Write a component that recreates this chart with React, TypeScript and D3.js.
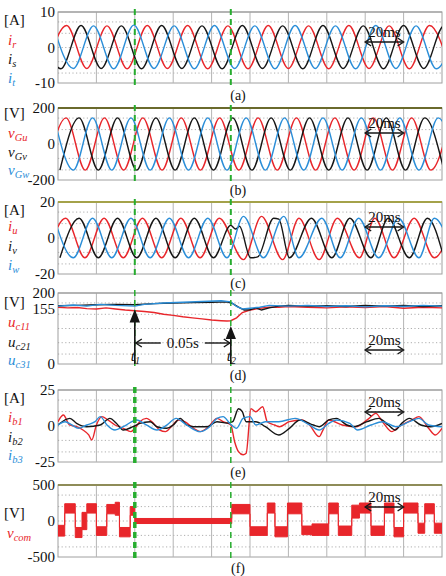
import React from "react";
import * as d3 from "d3";

type Pt = [number, number];
type Band = [number, number, number];

// ---------- time axis (ms) ----------
const timeDomain: [number, number] = [0, 200];
const divisionTimes = [20, 40, 60, 80, 100, 120, 140, 160, 180];
const t1 = 40;
const t2 = 90;
const scaleBar: [number, number] = [160, 180];

// ---------- (a) source currents [A], extrema (t, value) ----------
const iR: Pt[] = [[-6,-6.0],[4.5,6.2],[15,-5.9],[25.5,6.1],[36,-6.0],[46.5,6.2],[57,-5.9],[67.5,6.2],[78,-6.0],[88.5,6.1],[99,-6.0],[109.5,6.2],[120,-5.9],[130.5,6.1],[141,-6.0],[151.5,6.2],[162,-5.9],[172.5,6.1],[183,-6.0],[193.5,6.2],[204,-5.9]];
const iS: Pt[] = [[-9,6.1],[1.5,-6.0],[12,6.2],[22.5,-5.9],[33,6.1],[43.5,-6.0],[54,6.2],[64.5,-5.9],[75,6.1],[85.5,-6.0],[96,6.2],[106.5,-5.9],[117,6.1],[127.5,-6.0],[138,6.2],[148.5,-5.9],[159,6.1],[169.5,-6.0],[180,6.2],[190.5,-5.9],[201,6.1],[211.5,-6.0]];
const iT: Pt[] = [[-2.5,6.2],[8,-5.9],[18.5,6.1],[29,-6.0],[39.5,6.3],[50,-5.9],[60.5,6.1],[71,-6.0],[81.5,6.2],[92,-5.9],[102.5,6.1],[113,-6.0],[123.5,6.2],[134,-5.9],[144.5,6.1],[155,-6.0],[165.5,6.2],[176,-5.9],[186.5,6.1],[197,-6.0],[207.5,6.2]];

// ---------- (b) grid voltages [V] ----------
const vGu: Pt[] = [[-5.8,-145],[4.2,145],[14.2,-145],[24.2,145],[34.2,-145],[44.2,145],[54.2,-145],[64.2,145],[74.2,-145],[84.2,145],[94.2,-145],[104.2,145],[114.2,-145],[124.2,145],[134.2,-145],[144.2,145],[154.2,-145],[164.2,145],[174.2,-145],[184.2,145],[194.2,-145],[204.2,145]];
const vGv: Pt[] = [[1,-145],[11,145],[21,-145],[31,145],[41,-145],[51,145],[61,-145],[71,145],[81,-145],[91,145],[101,-145],[111,145],[121,-145],[131,145],[141,-145],[151,145],[161,-145],[171,145],[181,-145],[191,145],[201,-145]];
const vGw: Pt[] = [[-2,145],[8,-145],[18,145],[28,-145],[38,145],[48,-145],[58,145],[68,-145],[78,145],[88,-145],[98,145],[108,-145],[118,145],[128,-145],[138,145],[148,-145],[158,145],[168,-145],[178,145],[188,-145],[198,145],[208,-145]];

// ---------- (c) converter currents [A] ----------
const iU: Pt[] = [[-6,-11],[4,11],[14,-11],[24,11],[34,-11],[44,11],[54,-11],[64,11],[74,-11],[84,11],[96.6,-12],[106,12],[117,-12],[125.5,11],[136,-12],[145.5,11],[157,-11],[165,11],[175,-11],[185.5,11],[196,-11],[206,11]];
const iV: Pt[] = [[1,-11],[11,11],[21,-11],[31,11],[41,-11],[51,11],[61,-11],[71,11],[81,-11],[90,7],[92.5,5],[94.5,6.5],[100.3,-11],[104,-10.5],[112.3,11],[115,10.5],[120.5,-11],[132,11],[142.6,-11],[152,11],[163,-11],[172,11],[183,-11],[192.4,11],[201,-11]];
const iW: Pt[] = [[-2,11],[8,-11],[18,11],[28,-11],[38,11],[48,-11],[58,11],[68,-11],[78,11],[88,-11],[96.6,12],[107,-11],[117.6,12],[125.5,-11],[137.4,11],[147,-11],[156.6,11],[167,-11],[177.4,11],[188,-11],[196,11],[206,-11]];

// ---------- (d) capacitor voltages [V] ----------
const uc11: Pt[] = [[0,160],[5,158],[10,159],[15,156],[20,155],[25,158],[30,155],[35,152],[40,150],[45,148],[50,145],[55,140],[60,137],[65,133],[70,130],[75,127],[80,124],[85,122],[88,121],[90,122],[93,130],[96,145],[100,152],[105,157],[110,160],[115,160],[120,162],[130,160],[140,158],[150,161],[160,159],[170,162],[180,157],[190,160],[200,158]];
const uc21: Pt[] = [[0,164],[10,165],[20,167],[30,168],[40,167],[50,170],[60,172],[70,173],[80,174],[88,175],[91,170],[94,160],[97,152],[100,153],[103,158],[106,152],[110,158],[115,163],[120,165],[130,163],[140,164],[150,162],[160,165],[170,163],[180,165],[190,162],[200,164]];
const uc31: Pt[] = [[0,163],[8,166],[15,163],[22,168],[30,165],[40,163],[45,168],[55,172],[65,174],[75,176],[85,178],[90,175],[93,162],[96,155],[100,157],[105,160],[110,165],[120,163],[130,165],[140,162],[150,164],[160,161],[170,164],[180,162],[190,165],[200,163]];

// ---------- (e) branch currents [A] ----------
const ib1: Pt[] = [[0,3],[2.8,7.6],[6,0.7],[9.7,-0.5],[13,-2.8],[16,-6.2],[17.6,-9.7],[20,0.7],[22.8,6.5],[26,4.2],[29.7,0.7],[34,-1.6],[38,-3.9],[40,-1.6],[42.6,3],[46,5.3],[49.8,1.8],[53,-2.8],[56,-3.9],[59,-0.5],[62.8,4.2],[66,3],[70.6,-1.6],[74,-3.9],[78.4,-0.5],[82.8,5.3],[86,3],[90,0.7],[92,-10.9],[94,-17.8],[96.4,-20],[98,-19],[100.5,12],[103,9.9],[106.6,13.4],[109,3],[112.8,0.7],[115.4,-0.5],[120.5,3],[127,4.2],[131,0.7],[136,-7.4],[138,-2.8],[141,4.2],[148,0.7],[155,-0.5],[162,5.3],[165.5,8.8],[169,3],[174,-3.9],[177.5,-0.5],[184.4,4.2],[188,6.5],[193,-1.6],[196.5,-6.2],[200,-1.6]];
const ib2: Pt[] = [[0,0.7],[6.2,5.3],[9.7,1.8],[14.9,-0.5],[22,0.7],[27,5.3],[30.5,1.8],[34,-2.8],[39,-0.5],[42.6,1.8],[48,3],[51.5,-0.5],[56.7,-1.6],[60,0.7],[63.7,5.3],[67,0.7],[70.6,-0.5],[77.6,-0.5],[82.8,3],[88,2],[91,3],[94,12],[96,9.9],[98,3],[103,3],[108,-0.5],[115,-6.2],[120.5,-1.6],[126,4.2],[133,0.7],[136,-0.5],[141,4.2],[145,5.3],[150.5,0.7],[154,-0.5],[161,3],[167,5.3],[172,0.7],[175.6,-2.8],[179,1.8],[183,5.3],[189,0.7],[194,-0.5],[200,1.8]];
const ib3: Pt[] = [[0,0.7],[3.7,3],[7.2,0.7],[10.6,-1.6],[15,0.7],[19.3,3],[22,6.5],[25.5,0.7],[29.7,-2.8],[34,-0.5],[41,4.2],[46,0.7],[51.5,-2.8],[57,1],[61.5,5.3],[67,0.7],[74,-3.9],[79,-0.5],[82.8,5.3],[86,6.5],[89.5,1.8],[93,-1.6],[96.4,5.3],[100,6.5],[103,0.7],[108,3],[115,3],[123.5,5.3],[131,0.7],[136,-2.8],[141,1.8],[145,4.2],[152,1.8],[156,-2.8],[163,0.7],[169,3],[176,-0.5],[183,3],[188,5.3],[193,0.7],[200,-0.5]];

// ---------- (f) common-mode voltage [V]: (start t, low, high) ----------
const vcom: Band[] = [[0,-210,-60],[3.5,110,240],[9,-230,-90],[12.5,-120,120],[15,110,240],[20,-200,-80],[25.4,100,230],[29.8,80,260],[32,-220,-90],[37.6,80,200],[40,-35,35],[90.5,100,230],[100,-200,-80],[109,110,250],[113,-220,-80],[119.5,100,250],[127,-190,-70],[132.3,-200,-40],[141,100,250],[146,-200,-70],[153,40,220],[157,110,250],[163,-200,-70],[170,110,250],[175,-220,-90],[180,110,250],[187.5,-170,-30],[191,100,240],[196,-170,-30],[200,-170,-30]];

// ---------- drawing ----------
const RED = "#e8262b";
const BLACK = "#161616";
const BLUE = "#2b8ed8";
const GREEN = "#27ad2f";
const SERIF = "'Liberation Serif', 'Times New Roman', serif";

const X_LEFT = 58;
const X_RIGHT = 442;

type SeriesDef = { base: string; sub: string; color: string; data: Pt[]; y: number };

type PanelDef = {
  caption: string;
  top: number;
  bottom: number;
  domain: [number, number];
  ticks: number[];
  unit: string;
  unitY: number;
  topColor: string;
  topWidth: number;
  captionY: number;
  barY?: number;
  curve: d3.CurveFactory;
  series: SeriesDef[];
  band?: Band[];
  bandLabel?: { base: string; sub: string; y: number };
  dashWidths: [number, number];
};

const panels: PanelDef[] = [
  {
    caption: "(a)", top: 12, bottom: 83, domain: [-10, 10], ticks: [10, 0, -10], unit: "[A]", unitY: 20,
    topColor: "#9a9a9a", topWidth: 1.2, captionY: 95, barY: 42, curve: d3.curveMonotoneX, dashWidths: [2, 2],
    series: [
      { base: "i", sub: "r", color: RED, data: iR, y: 40 },
      { base: "i", sub: "s", color: BLACK, data: iS, y: 59 },
      { base: "i", sub: "t", color: BLUE, data: iT, y: 78 },
    ],
  },
  {
    caption: "(b)", top: 108, bottom: 180, domain: [-200, 200], ticks: [200, 0, -200], unit: "[V]", unitY: 113,
    topColor: "#6a6a2c", topWidth: 2, captionY: 190, barY: 133, curve: d3.curveMonotoneX, dashWidths: [2, 2],
    series: [
      { base: "v", sub: "Gu", color: RED, data: vGu, y: 133 },
      { base: "v", sub: "Gv", color: BLACK, data: vGv, y: 152 },
      { base: "v", sub: "Gw", color: BLUE, data: vGw, y: 170 },
    ],
  },
  {
    caption: "(c)", top: 202, bottom: 274, domain: [-20, 20], ticks: [20, 0, -20], unit: "[A]", unitY: 210,
    topColor: "#a4a24a", topWidth: 2, captionY: 283, barY: 227, curve: d3.curveMonotoneX, dashWidths: [2, 2],
    series: [
      { base: "i", sub: "u", color: RED, data: iU, y: 226 },
      { base: "i", sub: "v", color: BLACK, data: iV, y: 246 },
      { base: "i", sub: "w", color: BLUE, data: iW, y: 265 },
    ],
  },
  {
    caption: "(d)", top: 293, bottom: 364, domain: [0, 200], ticks: [200, 155, 0], unit: "[V]", unitY: 302,
    topColor: "#9a9a9a", topWidth: 1.2, captionY: 375, barY: 350, curve: d3.curveLinear, dashWidths: [1.5, 1.5],
    series: [
      { base: "u", sub: "c11", color: RED, data: uc11, y: 322 },
      { base: "u", sub: "c21", color: BLACK, data: uc21, y: 342 },
      { base: "u", sub: "c31", color: BLUE, data: uc31, y: 360 },
    ],
  },
  {
    caption: "(e)", top: 390, bottom: 462, domain: [-25, 25], ticks: [25, 0, -25], unit: "[A]", unitY: 398,
    topColor: "#9a9a9a", topWidth: 1.2, captionY: 472, barY: 412, curve: d3.curveMonotoneX, dashWidths: [3.5, 1.5],
    series: [
      { base: "i", sub: "b1", color: RED, data: ib1, y: 417 },
      { base: "i", sub: "b2", color: BLACK, data: ib2, y: 437 },
      { base: "i", sub: "b3", color: BLUE, data: ib3, y: 455 },
    ],
  },
  {
    caption: "(f)", top: 485, bottom: 557, domain: [-500, 500], ticks: [500, 0, -500], unit: "[V]", unitY: 513,
    topColor: "#8e8c58", topWidth: 2, captionY: 568, barY: 507, curve: d3.curveLinear, dashWidths: [3.5, 1.5],
    series: [], band: vcom, bandLabel: { base: "v", sub: "com", y: 533 },
  },
];

const x = d3.scaleLinear().domain(timeDomain).range([X_LEFT, X_RIGHT]);

function Label({ base, sub, color, xPos, y }: { base: string; sub: string; color: string; xPos: number; y: number }) {
  return (
    <text x={xPos} y={y} dy="0.3em" fill={color} fontFamily={SERIF} fontStyle="italic" fontSize={15}>
      {base}
      <tspan fontSize={10.5} dy={3}>{sub}</tspan>
    </text>
  );
}

function Arrow({ x1, x2, y }: { x1: number; x2: number; y: number }) {
  return (
    <g stroke={BLACK} strokeWidth={1.4} fill="none">
      <line x1={x1 + 1} x2={x2 - 1} y1={y} y2={y} />
      <path d={`M${x1 + 6},${y - 4} L${x1},${y} L${x1 + 6},${y + 4}`} />
      <path d={`M${x2 - 6},${y - 4} L${x2},${y} L${x2 - 6},${y + 4}`} />
    </g>
  );
}

function PanelView({ p, idx }: { p: PanelDef; idx: number }) {
  const y = d3.scaleLinear().domain(p.domain).range([p.bottom, p.top]);
  const line = d3.line<Pt>().x((d) => x(d[0])).y((d) => y(d[1])).curve(p.curve);
  const area = d3
    .area<Band>()
    .x((d) => x(d[0]))
    .y0((d) => y(d[1]))
    .y1((d) => y(d[2]))
    .curve(d3.curveStepAfter);
  const clipId = `clip-${idx}`;
  const h = p.bottom - p.top;
  const dotted = [0.14, 0.3, 0.5, 0.7, 0.86].map((f) => p.top + f * h);
  return (
    <g>
      <defs>
        <clipPath id={clipId}>
          <rect x={X_LEFT} y={p.top} width={X_RIGHT - X_LEFT} height={h} />
        </clipPath>
      </defs>
      <rect x={X_LEFT} y={p.top} width={X_RIGHT - X_LEFT} height={h} fill="#fff" stroke="#a0a0a0" strokeWidth={1} />
      {dotted.map((gy, i) => (
        <line key={i} x1={X_LEFT} x2={X_RIGHT} y1={gy} y2={gy} stroke="#9a9a9a" strokeWidth={0.8} strokeDasharray="1.2 2.4" />
      ))}
      {divisionTimes.map((t) => (
        <line key={t} x1={x(t)} x2={x(t)} y1={p.top} y2={p.bottom} stroke="#b4b4b4" strokeWidth={1} />
      ))}
      <line x1={X_LEFT} x2={X_RIGHT} y1={p.top} y2={p.top} stroke={p.topColor} strokeWidth={p.topWidth} />
      <g clipPath={`url(#${clipId})`}>
        {p.band && <path d={area(p.band) ?? ""} fill={RED} stroke={RED} strokeWidth={1} />}
        {p.series.map((s) => (
          <path key={s.sub} d={line(s.data) ?? ""} fill="none" stroke={s.color} strokeWidth={1.4} />
        ))}
      </g>
      {/* event markers */}
      <line x1={x(t1)} x2={x(t1)} y1={p.top - 3} y2={p.bottom + 3} stroke={GREEN} strokeWidth={p.dashWidths[0]} strokeDasharray="6 4" />
      <line x1={x(t2)} x2={x(t2)} y1={p.top - 3} y2={p.bottom + 3} stroke={GREEN} strokeWidth={p.dashWidths[1]} strokeDasharray="6 4" />
      {/* tick labels */}
      {p.ticks.map((t) => (
        <text key={t} x={55} y={y(t)} dy="0.35em" textAnchor="end" fontFamily={SERIF} fontSize={15} fill="#111">
          {t}
        </text>
      ))}
      <text x={4} y={p.unitY} dy="0.35em" fontFamily={SERIF} fontSize={15} fill="#111">
        {p.unit}
      </text>
      {p.series.map((s) => (
        <Label key={s.sub} base={s.base} sub={s.sub} color={s.color} xPos={8} y={s.y} />
      ))}
      {p.bandLabel && <Label base={p.bandLabel.base} sub={p.bandLabel.sub} color={RED} xPos={7} y={p.bandLabel.y} />}
      {p.barY !== undefined && (
        <g>
          <Arrow x1={x(scaleBar[0])} x2={x(scaleBar[1])} y={p.barY} />
          <text x={(x(scaleBar[0]) + x(scaleBar[1])) / 2} y={p.barY - 5} textAnchor="middle" fontFamily={SERIF} fontSize={15} fill="#111">
            20ms
          </text>
        </g>
      )}
      <text x={238} y={p.captionY} dy="0.35em" textAnchor="middle" fontFamily={SERIF} fontSize={14} fill="#111">
        {p.caption}
      </text>
    </g>
  );
}

function Panel4Notes() {
  const p = panels[3];
  const yScale = d3.scaleLinear().domain(p.domain).range([p.bottom, p.top]);
  const ax1 = x(t1);
  const ax2 = x(t2);
  const ay = 343;
  const mid = (ax1 + ax2) / 2;
  return (
    <g>
      <g stroke={BLACK} strokeWidth={1.6} fill={BLACK}>
        <line x1={ax1} x2={ax1} y1={yScale(0)} y2={yScale(142)} />
        <path d={`M${ax1 - 4},${yScale(142) + 8} L${ax1},${yScale(148)} L${ax1 + 4},${yScale(142) + 8} Z`} />
        <line x1={ax2} x2={ax2} y1={yScale(0)} y2={yScale(95)} />
        <path d={`M${ax2 - 4},${yScale(95) + 8} L${ax2},${yScale(101)} L${ax2 + 4},${yScale(95) + 8} Z`} />
      </g>
      <g stroke={BLACK} strokeWidth={1.4} fill="none">
        <line x1={ax1 + 1} x2={mid - 22} y1={ay} y2={ay} />
        <line x1={mid + 22} x2={ax2 - 1} y1={ay} y2={ay} />
        <path d={`M${ax1 + 7},${ay - 4} L${ax1 + 1},${ay} L${ax1 + 7},${ay + 4}`} />
        <path d={`M${ax2 - 7},${ay - 4} L${ax2 - 1},${ay} L${ax2 - 7},${ay + 4}`} />
      </g>
      <text x={mid} y={ay} dy="0.35em" textAnchor="middle" fontFamily={SERIF} fontSize={15} fill="#111">
        0.05s
      </text>
      <text x={ax1 - 4} y={361} fontFamily={SERIF} fontStyle="italic" fontSize={15} fill="#111">
        t<tspan fontSize={10} dy={3}>1</tspan>
      </text>
      <text x={ax2 - 4} y={361} fontFamily={SERIF} fontStyle="italic" fontSize={15} fill="#111">
        t<tspan fontSize={10} dy={3}>2</tspan>
      </text>
    </g>
  );
}

export default function App() {
  return (
    <svg
      width={446}
      height={576}
      viewBox="0 0 446 576"
      style={{ position: "absolute", left: 0, top: 0, background: "#fff" }}
    >
      <rect x={0} y={0} width={446} height={576} fill="#fff" />
      {panels.map((p, i) => (
        <PanelView key={p.caption} p={p} idx={i} />
      ))}
      <Panel4Notes />
    </svg>
  );
}
